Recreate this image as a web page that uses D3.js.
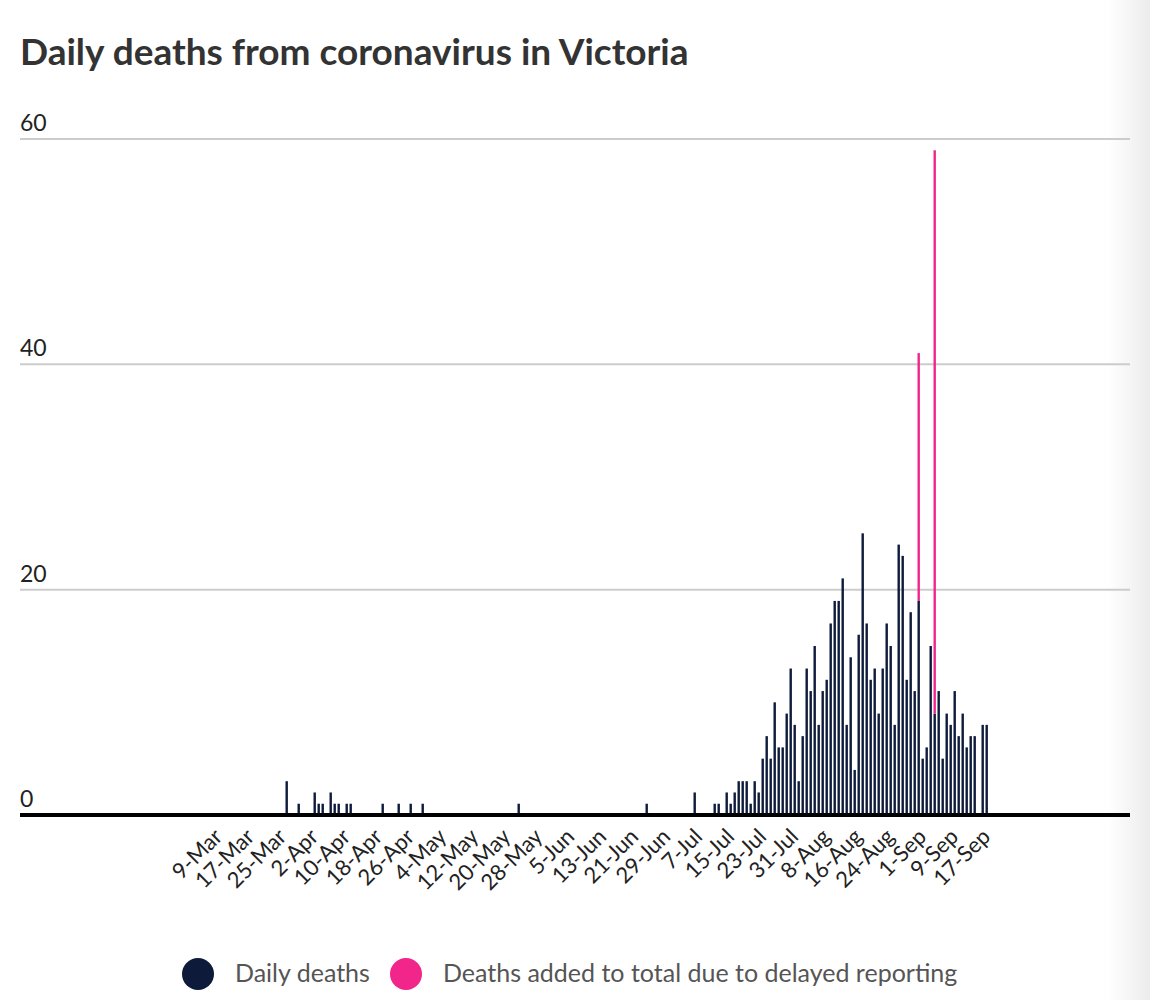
<!DOCTYPE html>
<meta charset="utf-8">
<head>
  <title>Daily deaths from coronavirus in Victoria</title>
  <style>
    body { margin: 0; background: #fff; }
    text { font-family: Lato, "Noto Sans", sans-serif; }
  </style>
</head>

<body>
  <svg width="1150" height="1000"></svg>

  <script src="https://cdn.jsdelivr.net/npm/d3@7"></script>
  <script>
// days with at least one death (other days are zero)
var dates = [
  '2020-03-26', '2020-03-29', '2020-04-02', '2020-04-03', '2020-04-04', '2020-04-06',
  '2020-04-07', '2020-04-08', '2020-04-10', '2020-04-11', '2020-04-19', '2020-04-23',
  '2020-04-26', '2020-04-29', '2020-05-23', '2020-06-24', '2020-07-06', '2020-07-11',
  '2020-07-12', '2020-07-14', '2020-07-15', '2020-07-16', '2020-07-17', '2020-07-18',
  '2020-07-19', '2020-07-20', '2020-07-21', '2020-07-22', '2020-07-23', '2020-07-24',
  '2020-07-25', '2020-07-26', '2020-07-27', '2020-07-28', '2020-07-29', '2020-07-30',
  '2020-07-31', '2020-08-01', '2020-08-02', '2020-08-03', '2020-08-04', '2020-08-05',
  '2020-08-06', '2020-08-07', '2020-08-08', '2020-08-09', '2020-08-10', '2020-08-11',
  '2020-08-12', '2020-08-13', '2020-08-14', '2020-08-15', '2020-08-16', '2020-08-17',
  '2020-08-18', '2020-08-19', '2020-08-20', '2020-08-21', '2020-08-22', '2020-08-23',
  '2020-08-24', '2020-08-25', '2020-08-26', '2020-08-27', '2020-08-28', '2020-08-29',
  '2020-08-30', '2020-08-31', '2020-09-01', '2020-09-02', '2020-09-03', '2020-09-04',
  '2020-09-05', '2020-09-06', '2020-09-07', '2020-09-08', '2020-09-09', '2020-09-10',
  '2020-09-11', '2020-09-12', '2020-09-13', '2020-09-14', '2020-09-16', '2020-09-17'
];

var dailyDeaths = [
  3, 1, 2, 1, 1, 2,
  1, 1, 1, 1, 1, 1,
  1, 1, 1, 1, 2, 1,
  1, 2, 1, 2, 3, 3,
  3, 1, 3, 2, 5, 7,
  5, 10, 6, 6, 9, 13,
  8, 3, 7, 13, 11, 15,
  8, 11, 12, 17, 19, 19,
  21, 8, 14, 4, 16, 25,
  17, 12, 13, 9, 13, 17,
  15, 8, 24, 23, 12, 18,
  11, 19, 5, 6, 15, 9,
  11, 5, 9, 8, 11, 7,
  9, 6, 7, 7, 8, 8
];

// deaths added on these days from earlier, delayed reports
var delayedDates = ['2020-08-31', '2020-09-04'];
var delayedDeaths = [22, 50];

var tickDates = [
  '2020-03-09', '2020-03-17', '2020-03-25', '2020-04-02', '2020-04-10', '2020-04-18',
  '2020-04-26', '2020-05-04', '2020-05-12', '2020-05-20', '2020-05-28', '2020-06-05',
  '2020-06-13', '2020-06-21', '2020-06-29', '2020-07-07', '2020-07-15', '2020-07-23',
  '2020-07-31', '2020-08-08', '2020-08-16', '2020-08-24', '2020-09-01', '2020-09-09',
  '2020-09-17'
];
var yTicks = [0, 20, 40, 60];

var colors = ['#0d1a3a', '#f2258a'];
var legendLabels = ['Daily deaths', 'Deaths added to total due to delayed reporting'];

var parse = d3.utcParse('%Y-%m-%d');
var fmt = d3.utcFormat('%-d-%b');

var rows = dates.map(function(d, i) {
  var k = delayedDates.indexOf(d);
  return {date: parse(d), daily: dailyDeaths[i], delayed: k < 0 ? 0 : delayedDeaths[k]};
});

var left = 20, right = 1130;

var x = d3.scaleUtc()
  .domain([parse(tickDates[0]), parse(tickDates[tickDates.length - 1])])
  .range([218.7, 986.7]);

var y = d3.scaleLinear().domain([0, 60]).range([815, 139]);

var svg = d3.select('svg');

// faint shading at the right edge of the page
var grad = svg.append('defs').append('linearGradient')
  .attr('id', 'edge').attr('x1', 0).attr('x2', 1).attr('y1', 0).attr('y2', 0);
grad.append('stop').attr('offset', 0).attr('stop-color', '#fff');
grad.append('stop').attr('offset', 1).attr('stop-color', '#ececec');
svg.append('rect').attr('x', 1108).attr('y', 0).attr('width', 42).attr('height', 1000)
  .attr('fill', 'url(#edge)');

svg.append('text')
  .attr('x', 20).attr('y', 65)
  .style('font-size', '37px').style('font-weight', 700).style('fill', '#333')
  .text('Daily deaths from coronavirus in Victoria');

// grid + y labels
var grid = svg.append('g');
grid.selectAll('line')
  .data(yTicks.filter(function(d) { return d > 0; }))
  .enter().append('line')
  .attr('x1', left).attr('x2', right)
  .attr('y1', function(d) { return y(d); })
  .attr('y2', function(d) { return y(d); })
  .style('stroke', '#ccc').style('stroke-width', 2);

grid.selectAll('text')
  .data(yTicks)
  .enter().append('text')
  .attr('x', left)
  .attr('y', function(d) { return y(d) - 8; })
  .style('font-size', '23px').style('fill', '#222')
  .text(function(d) { return d; });

var bw = 2.4;
var bars = svg.append('g');
bars.selectAll('rect.daily')
  .data(rows)
  .enter().append('rect')
  .attr('class', 'daily')
  .attr('x', function(d) { return x(d.date) - bw / 2; })
  .attr('width', bw)
  .attr('y', function(d) { return y(d.daily); })
  .attr('height', function(d) { return y(0) - y(d.daily); })
  .style('fill', colors[0]);

bars.selectAll('rect.delayed')
  .data(rows.filter(function(d) { return d.delayed > 0; }))
  .enter().append('rect')
  .attr('class', 'delayed')
  .attr('x', function(d) { return x(d.date) - bw / 2; })
  .attr('width', bw)
  .attr('y', function(d) { return y(d.daily + d.delayed); })
  .attr('height', function(d) { return y(d.daily) - y(d.daily + d.delayed); })
  .style('fill', colors[1]);

// baseline
svg.append('line')
  .attr('x1', left).attr('x2', right)
  .attr('y1', y(0)).attr('y2', y(0))
  .style('stroke', '#000').style('stroke-width', 4);

// x labels
svg.append('g').selectAll('text')
  .data(tickDates.map(parse))
  .enter().append('text')
  .attr('transform', function(d) { return 'translate(' + (x(d) + 5) + ',' + 838 + ') rotate(-45)'; })
  .style('text-anchor', 'end')
  .style('font-size', '22px').style('fill', '#222')
  .text(fmt);

// legend
var legX = [198, 406];
var leg = svg.append('g').selectAll('g')
  .data(legendLabels)
  .enter().append('g')
  .attr('transform', function(d, i) { return 'translate(' + legX[i] + ',974)'; });
leg.append('circle').attr('r', 16).style('fill', function(d, i) { return colors[i]; });
leg.append('text')
  .attr('x', 37).attr('y', 8)
  .style('font-size', '25px').style('fill', '#555')
  .text(function(d) { return d; });
  </script>
</body>
</html>
